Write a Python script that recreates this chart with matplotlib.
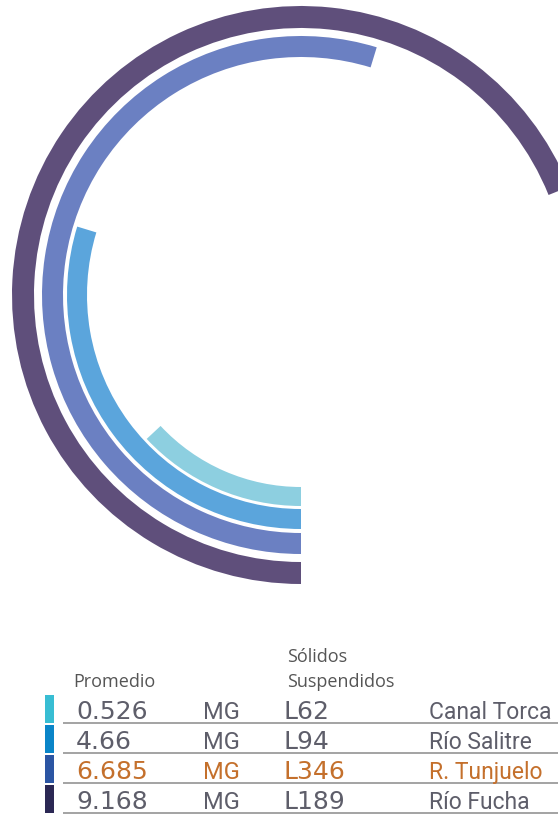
import numpy as np
import matplotlib
matplotlib.use("Agg")
import matplotlib.pyplot as plt

# data, one entry per river (inner arc -> outer arc)
names = ["Canal Torca", "Río Salitre", "R. Tunjuelo", "Río Fucha"]
promedio = ["0.526", "4.66", "6.685", "9.168"]
solidos = ["L62", "L94", "L346", "L189"]
arc_deg = [47, 107, 197, 248]          # sweep of each arc, clockwise from the bottom
arc_colors = ["#8dcfe0", "#5ba5dc", "#6b80c2", "#5f4f7b"]
key_colors = ["#38bdd3", "#0a85c8", "#2b55a3", "#2b2854"]
text_colors = ["#5e5e6a", "#5e5e6a", "#c4702c", "#5e5e6a"]

W, H = 558, 814
fig = plt.figure(figsize=(W / 100, H / 100), dpi=100)
fig.patch.set_facecolor("white")

# radial bars
cx, cy, R = 301, 295, 300
ax = fig.add_axes([(cx - R) / W, (H - cy - R) / H, 2 * R / W, 2 * R / H],
                  projection="polar")
ax.set_theta_zero_location("S")
ax.set_theta_direction(-1)
ax.set_ylim(0, R)
r_in = [192, 214, 238, 267]
thick = [19, 20, 21, 22]
ax.bar(np.zeros(4), thick, width=np.radians(arc_deg), bottom=r_in,
       color=arc_colors, align="edge", linewidth=0)
ax.axis("off")

# table under the chart, in pixel coordinates
tb = fig.add_axes([0, 0, 1, 1])
tb.set_xlim(0, W)
tb.set_ylim(H, 0)
tb.axis("off")
tb.patch.set_alpha(0)

hdr = dict(family="Open Sans", fontsize=13, color="#555555", va="baseline")
tb.text(73, 687, "Promedio", **hdr)
tb.text(287, 662, "Sólidos", **hdr)
tb.text(287, 687, "Suspendidos", **hdr)

base = 719 + 30 * np.arange(4)
tb.bar(np.full(4, 45), np.full(4, 28), width=9, bottom=base - 24,
       color=key_colors, align="edge", linewidth=0)
tb.hlines(base + 4, 63, W, color="#8a8a8a", linewidth=1.1)

for i in range(4):
    c = text_colors[i]
    tb.text(76, base[i], promedio[i], family="DejaVu Sans", fontsize=18,
            color=c, va="baseline")
    tb.text(203, base[i], "MG", family="Roboto", fontsize=17,
            color=c, va="baseline")
    tb.text(283, base[i], solidos[i], family="DejaVu Sans", fontsize=18,
            color=c, va="baseline")
    tb.text(429, base[i], names[i], family="Roboto", fontsize=16.5,
            color=c, va="baseline")

fig.savefig("out.png", dpi=100)
